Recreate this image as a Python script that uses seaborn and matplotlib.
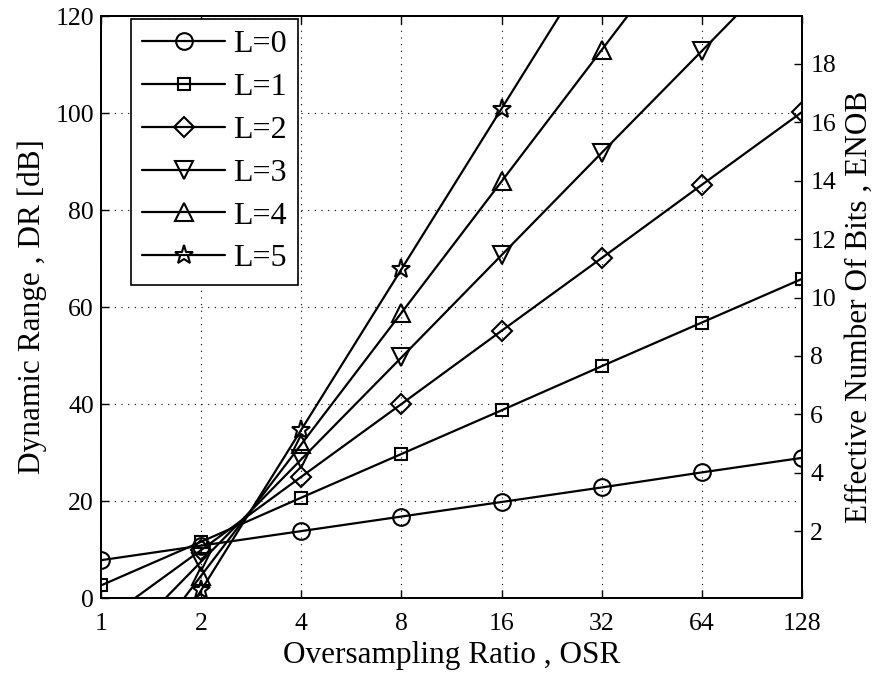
import numpy as np
import pandas as pd
import matplotlib
matplotlib.use("Agg")
import matplotlib.pyplot as plt
import seaborn as sns

osr = [1, 2, 4, 8, 16, 32, 64, 128]
dr_L0 = [7.8, 10.8, 13.8, 16.8, 19.8, 22.8, 25.9, 28.9]
dr_L1 = [2.6, 11.6, 20.7, 29.7, 38.7, 47.8, 56.8, 65.8]
dr_L2 = [-5.1, 9.9, 25.0, 40.0, 55.1, 70.1, 85.2, 100.2]
dr_L3 = [-13.6, 7.5, 28.6, 49.6, 70.7, 91.8, 112.8, 133.9]
dr_L4 = [-22.4, 4.6, 31.7, 58.8, 85.9, 113.0, 140.1, 167.2]
dr_L5 = [-31.5, 1.6, 34.7, 67.8, 100.9, 134.0, 167.1, 200.2]
series = [dr_L0, dr_L1, dr_L2, dr_L3, dr_L4, dr_L5]
labels = ["L=0", "L=1", "L=2", "L=3", "L=4", "L=5"]
markers = ["o", "s", "D", "v", "^", "*"]
msizes = [12, 9, 10, 13, 13, 14]
x_ticks = [1, 2, 4, 8, 16, 32, 64, 128]
y_ticks = [0, 20, 40, 60, 80, 100, 120]
enob_ticks = [2, 4, 6, 8, 10, 12, 14, 16, 18]

sns.set_theme(style="white")
plt.rcParams["font.family"] = ["Liberation Serif", "DejaVu Serif"]
plt.rcParams["mathtext.fontset"] = "stix"
for k in ["text.color", "axes.labelcolor", "xtick.color", "ytick.color"]:
    plt.rcParams[k] = "black"

fig = plt.figure(figsize=(8.76, 6.73), dpi=100)
ax = fig.add_axes([0.1153, 0.1114, 0.8002, 0.8648])

for vals, lab, m, ms in zip(series, labels, markers, msizes):
    df = pd.DataFrame({"OSR": osr, "DR": vals})
    sns.lineplot(data=df, x="OSR", y="DR", ax=ax, color="black", lw=1.6,
                 marker=m, markersize=ms, markerfacecolor="none",
                 markeredgecolor="black", markeredgewidth=1.5, label=lab)

ax.set_xscale("log", base=2)
ax.set_xlim(1, 128)
ax.set_ylim(0, 120)
ax.set_xticks(x_ticks)
ax.set_xticklabels([str(v) for v in x_ticks])
ax.set_yticks(y_ticks)
ax.minorticks_off()
ax.grid(True, which="major", linestyle=(0, (1, 5)), color="black", lw=0.8)
ax.tick_params(axis="both", direction="in", labelsize=18.5, length=6, width=1,
               colors="black", top=True, bottom=True, left=True, right=False)
ax.tick_params(axis="x", pad=11)
ax.tick_params(axis="y", pad=5)
for s in ax.spines.values():
    s.set_color("black")
    s.set_linewidth(1.4)
ax.set_xlabel("Oversampling Ratio , OSR", fontsize=22.5, labelpad=4)
ax.set_ylabel("Dynamic Range , DR [dB]", fontsize=22.5, labelpad=6)

ax2 = ax.twinx()
ax2.set_ylim((0 - 1.76) / 6.02, (120 - 1.76) / 6.02)
ax2.set_yticks(enob_ticks)
ax2.tick_params(direction="in", labelsize=18.5, length=6, width=1, colors="black", pad=6)
ax2.set_ylabel("Effective Number Of Bits , ENOB", fontsize=22.5, labelpad=6)
ax2.grid(False)
for s in ax2.spines.values():
    s.set_color("black")
    s.set_linewidth(1.4)

leg = ax.legend(loc="upper left", bbox_to_anchor=(0.043, 0.995), fontsize=23,
                frameon=True, fancybox=False, edgecolor="black",
                handlelength=2.6, handletextpad=0.25, labelspacing=0.42,
                borderpad=0.35, borderaxespad=0.0)
leg.get_frame().set_linewidth(1.2)
leg.get_frame().set_alpha(1)
ax.set_zorder(ax2.get_zorder() + 1)
ax.patch.set_visible(False)

fig.savefig("out.png", dpi=100)
